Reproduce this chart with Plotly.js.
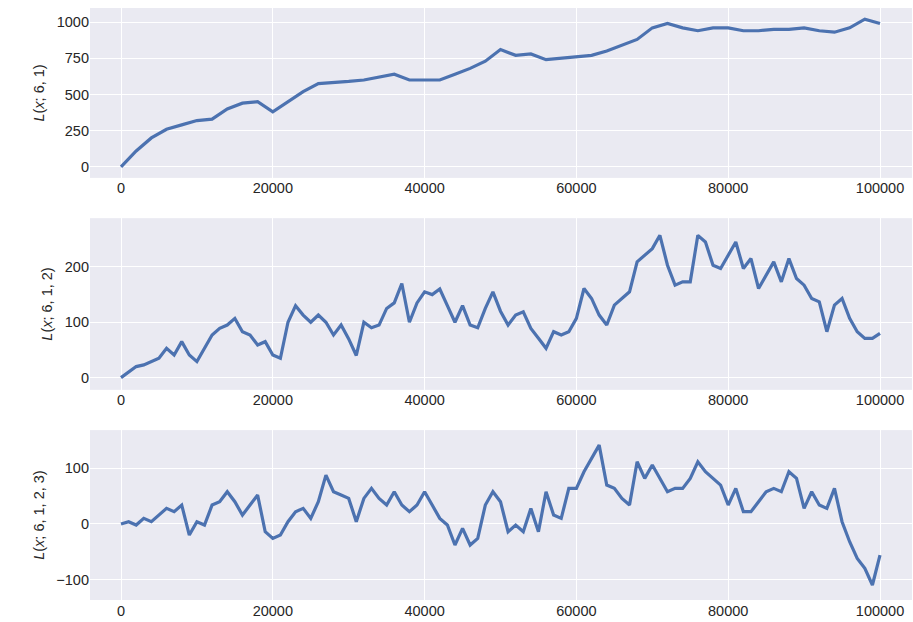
<html><head><script src="https://cdn.plot.ly/plotly-3.0.1.min.js"></script></head><body style="margin:0">
<div id="c" style="width:913px;height:622px"></div>
<script>
const x1 = [];for(let i=0;i<=50;i++)x1.push(i*2000);
const y1 = [0,110,200,260,290,320,330,400,440,450,380,450,520,575,580,590,600,620,640,600,600,600,640,680,730,810,770,780,740,750,760,770,800,840,880,960,990,960,940,960,960,940,940,950,950,960,940,930,960,1020,990];
const x2 = [];for(let i=0;i<=100;i++)x2.push(i*1000);
const y2 = [0,10,20,23,29,35,53,41,65,41,29,53,77,89,95,107,83,77,59,65,41,35,100,130,113,100,113,100,77,95,70,40,100,90,95,125,135,170,100,135,155,150,160,130,100,130,95,90,125,155,120,95,113,119,89,71,53,83,77,83,107,161,143,113,95,131,143,155,209,221,233,257,203,167,173,173,257,245,203,197,221,245,197,215,161,185,209,173,215,179,167,143,137,83,131,143,107,83,71,71,80];
const y3 = [0,4,-2,10,4,16,28,22,34,-20,4,-2,34,40,58,40,16,34,52,-14,-26,-20,4,22,28,10,40,88,58,52,46,4,46,64,46,34,58,34,22,34,58,34,10,-2,-38,-8,-38,-26,34,58,40,-14,-2,-14,28,-14,58,16,10,64,64,94,118,142,70,64,46,34,112,82,106,82,58,64,64,82,112,94,82,70,34,64,22,22,40,58,64,58,94,82,28,58,34,28,64,4,-32,-62,-80,-110,-56];
const titles = ['<i>L</i>(<i>x</i>; 6, 1)','<i>L</i>(<i>x</i>; 6, 1, 2)','<i>L</i>(<i>x</i>; 6, 1, 2, 3)'];
const line={color:'#4C72B0',width:3.2};
const data=[
 {x:x1,y:y1,type:'scatter',mode:'lines',line,xaxis:'x',yaxis:'y'},
 {x:x2,y:y2,type:'scatter',mode:'lines',line,xaxis:'x2',yaxis:'y2'},
 {x:x2,y:y3,type:'scatter',mode:'lines',line,xaxis:'x3',yaxis:'y3'}];
const ax=(extra)=>Object.assign({gridcolor:'#fff',gridwidth:1.4,zeroline:false,showline:false,ticks:'',tickfont:{size:14.5,color:'#262626'}},extra);
const xa={range:[-4084,104216],tickvals:[0,20000,40000,60000,80000,100000],ticktext:['0','20000','40000','60000','80000','100000']};
const tf={size:14.5};
const layout={width:913,height:622,margin:{l:90,r:1,t:8,b:22},showlegend:false,plot_bgcolor:'#EAEAF2',paper_bgcolor:'#fff',
 font:{family:'Liberation Sans, Arial, sans-serif',color:'#262626'},
 xaxis:ax(Object.assign({anchor:'y'},xa)),xaxis2:ax(Object.assign({anchor:'y2'},xa)),xaxis3:ax(Object.assign({anchor:'y3'},xa)),
 yaxis:ax({domain:[0.713,1],range:[-76,1097],tickvals:[0,250,500,750,1000],title:{text:titles[0],font:tf,standoff:8}}),
 yaxis2:ax({domain:[0.355,0.645],range:[-22,288],tickvals:[0,100,200],title:{text:titles[1],font:tf,standoff:8}}),
 yaxis3:ax({domain:[0,0.287],range:[-137,169],tickvals:[-100,0,100],title:{text:titles[2],font:tf,standoff:8}})};
Plotly.newPlot('c',data,layout,{displayModeBar:false});
</script></body></html>
